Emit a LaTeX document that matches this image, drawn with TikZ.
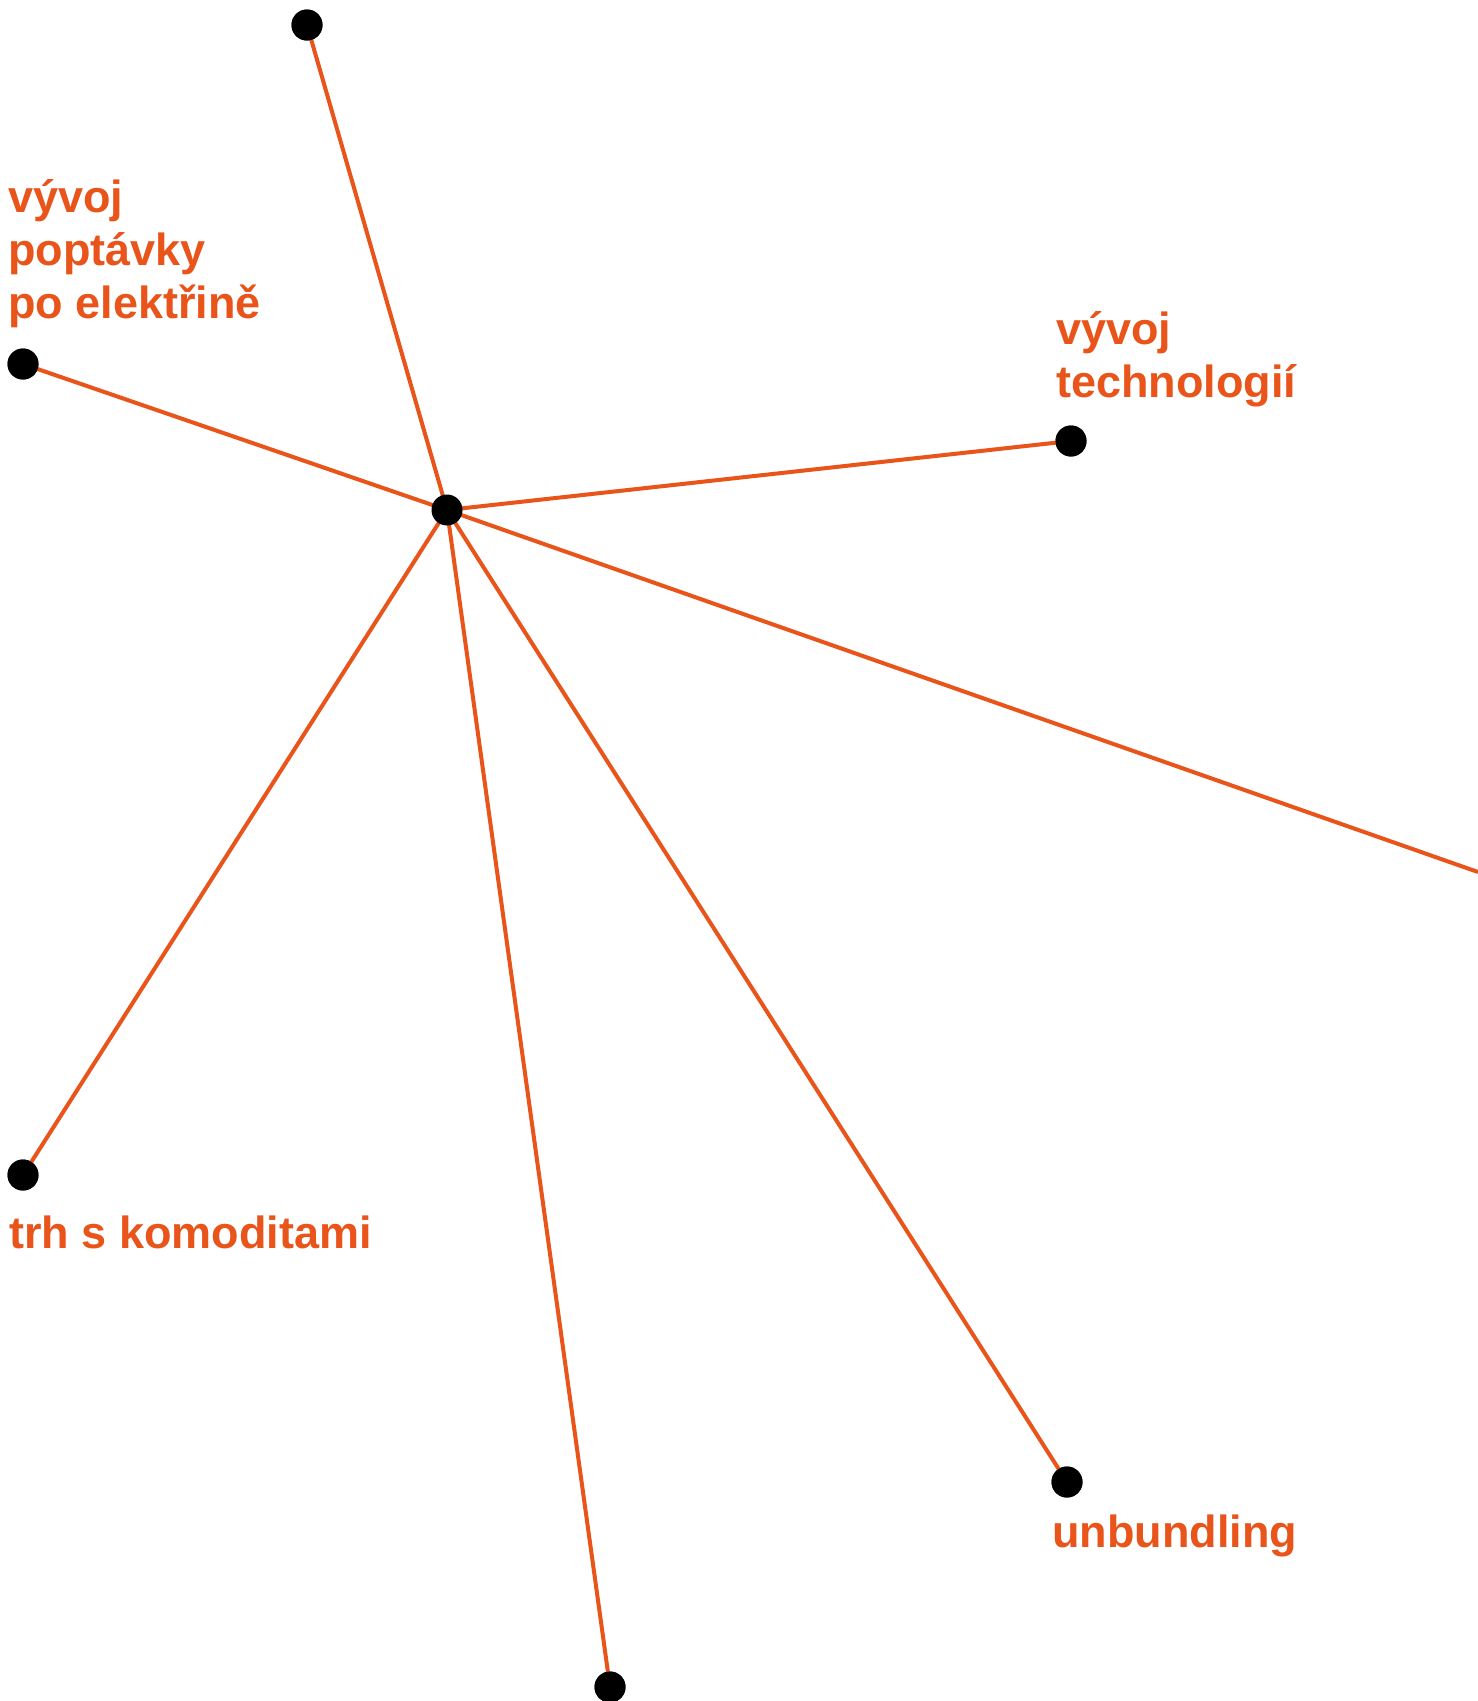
\documentclass[tikz,border=0pt]{standalone}
\usepackage{fontspec}
\setmainfont{Liberation Sans}
\definecolor{brandorange}{RGB}{232,84,26}
\begin{document}
\begin{tikzpicture}[x=1pt,y=-1pt,
  dot/.style={circle,fill=black,inner sep=0pt,minimum size=31pt},
  link/.style={draw=brandorange,line width=4pt},
  lbl/.style={text=brandorange,font=\fontsize{45}{53}\selectfont\bfseries,inner sep=0pt,anchor=base west,align=left}]
\useasboundingbox (0,0) rectangle (1478,1701);
\coordinate (c) at (447,510);
\node[dot] (top) at (307,25) {};
\node[dot] (dem) at (23,364) {};
\node[dot] (tech) at (1071,441) {};
\coordinate (edge) at (1478,872);
\node[dot] (com) at (23,1175) {};
\node[dot] (unb) at (1067,1482) {};
\node[dot] (bot) at (610,1687) {};
\foreach \t in {top,dem,tech,com,unb,bot} \draw[link] (c) -- (\t.center);
\draw[link] (c) -- (edge);
\foreach \t in {top,dem,tech,com,unb,bot} \fill (\t) circle (15.5);
\node[dot] (center) at (c) {};
\node[lbl] (ldem) at (8,318) {vývoj\\poptávky\\po elektřině};
\node[lbl] (ltech) at (1056,397) {vývoj\\technologií};
\node[lbl] (lcom) at (9,1248) {trh s komoditami};
\node[lbl] (lunb) at (1052,1547) {unbundling};
\end{tikzpicture}
\end{document}
